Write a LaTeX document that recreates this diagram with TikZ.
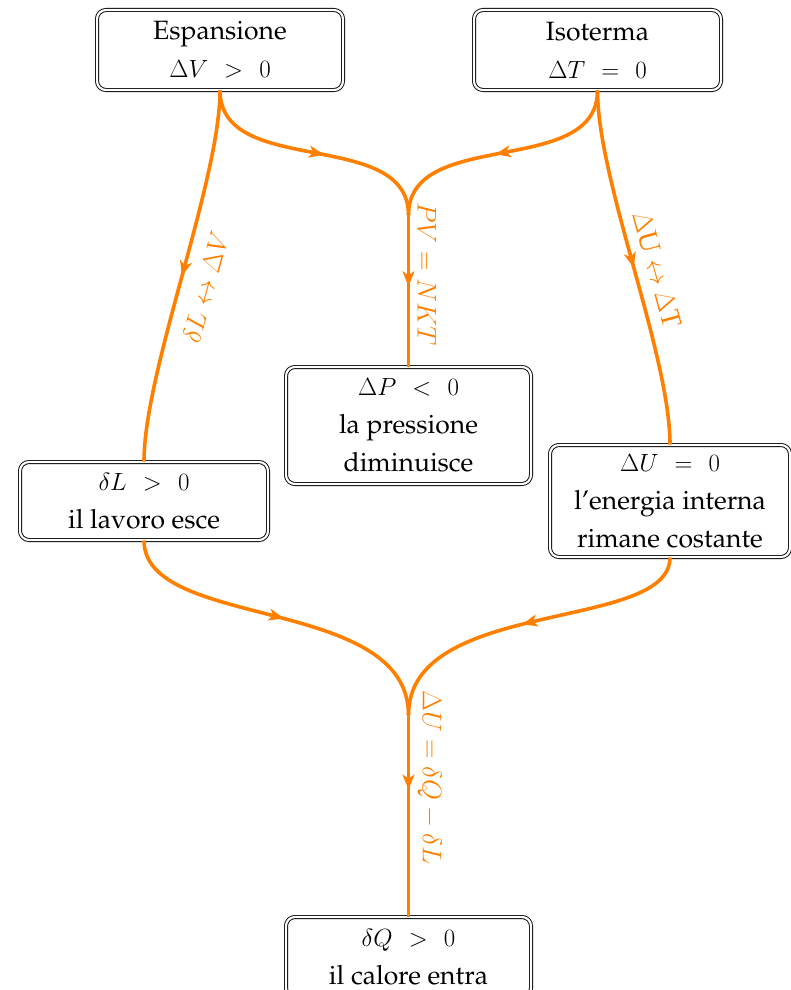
\RequirePackage{fix-cm}
\documentclass[tikz,border=0pt]{standalone}
\usepackage[T1]{fontenc}
\renewcommand{\rmdefault}{ppl}
\usetikzlibrary{arrows.meta,decorations.markings}
\tikzset{
  box/.style={draw=black, double=white, line width=0.9pt, double distance=2.2pt,
    rounded corners=9pt, align=center, font=\fontsize{26.5}{38}\selectfont,
    inner sep=0pt, minimum width=246pt},
  flow/.style={draw=orange, line width=3.6pt},
  midarrow/.style={postaction={decorate}, decoration={markings,
    mark=at position #1 with {\arrow{Stealth[length=15pt,width=12pt,inset=4pt]}}}},
  lab/.style={text=orange, font=\fontsize{27}{32}\selectfont, inner sep=12pt, outer sep=0pt},
  vlab/.style={lab, rotate=-90, anchor=south, inner sep=9pt},
}
\newcommand{\gp}{\hspace{0.37em}}
\newcommand{\bmath}[1]{{\fontsize{24.88}{38}\selectfont$#1$}}
\begin{document}
\begin{tikzpicture}[x=1pt,y=-1pt]
\useasboundingbox (0,0) rectangle (790,990);
\node[box, minimum height=80pt] (E) at (220,50) {Espansione\\\bmath{\Delta V\gp>\gp0}};
\node[box, minimum height=80pt, minimum width=247pt] (I) at (597.5,50) {Isoterma\\\bmath{\Delta T\gp=\gp0}};
\node[box, minimum height=117pt, minimum width=245pt] (P) at (408.5,425.5) {\bmath{\Delta P\gp<\gp0}\\la pressione\\diminuisce};
\node[box, minimum height=78pt, minimum width=248pt] (L) at (144,501) {\bmath{\delta L\gp>\gp0}\\il lavoro esce};
\node[box, minimum height=112pt, minimum width=240pt] (U) at (670,501) {\bmath{\Delta U\gp=\gp0}\\l'energia interna\\rimane costante};
\node[box, minimum height=80pt, minimum width=245pt] (Q) at (408.5,957) {\bmath{\delta Q\gp>\gp0}\\il calore entra};
\coordinate (m1) at (408.5,215);
\coordinate (m2) at (408.5,715);
\draw[flow, midarrow=0.54] (E.south) .. controls +(0,88) and +(0,-88) .. (m1);
\draw[flow, midarrow=0.53] (I.south) .. controls +(0,88) and +(0,-88) .. (m1);
\draw[flow, midarrow=0.47] (m1) -- node[vlab, pos=0.39] {$PV = NKT$} (P.north);
\draw[flow, midarrow=0.5] (E.south) .. controls +(0,90) and +(0,-90) .. node[lab, sloped, below, pos=0.51, inner sep=16pt] {$\delta L \leftrightarrow \Delta V$} (L.north);
\draw[flow, midarrow=0.5] (I.south) .. controls +(0,90) and +(0,-90) .. node[lab, sloped, above, pos=0.52] {$\Delta$U $\leftrightarrow$ $\Delta$T} (U.north);
\draw[flow, midarrow=0.5] (L.south) .. controls +(0,90) and +(0,-120) .. (m2);
\draw[flow, midarrow=0.52] (U.south) .. controls +(0,75) and +(0,-118) .. (m2);
\draw[flow, midarrow=0.37] (m2) -- node[vlab, pos=0.31] {$\Delta U = \delta Q - \delta L$} (Q.north);
\end{tikzpicture}
\end{document}
